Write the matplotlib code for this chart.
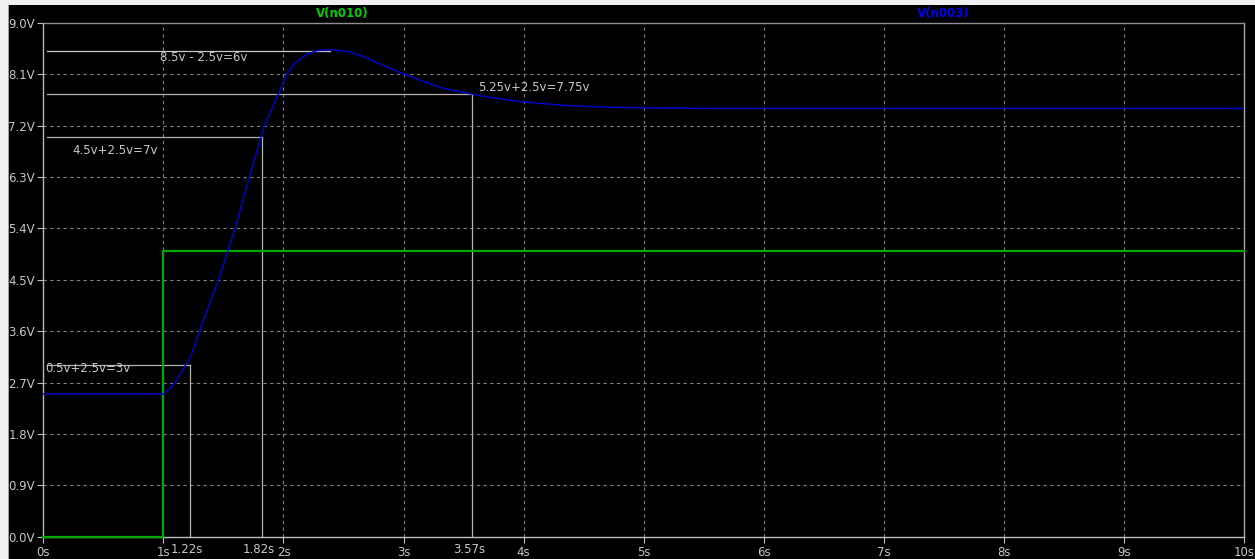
import matplotlib
matplotlib.use("Agg")
import matplotlib.pyplot as plt
from matplotlib.patches import Rectangle

# --- traces -----------------------------------------------------------------
# V(n003): second-order step response (time in s, volts)
t_n003 = [0.0, 1.0, 1.055, 1.11, 1.161, 1.227, 1.299, 1.458, 1.536,
          1.597, 1.716, 1.813, 1.841, 1.957, 2.027, 2.082, 2.138, 2.194,
          2.277, 2.388, 2.554, 2.693, 2.832, 3.004, 3.165, 3.331, 3.498,
          3.693, 4.003, 4.359, 4.692, 5.003, 5.469, 6.0, 7.0, 8.0, 9.0, 10.0]
v_n003 = [2.5, 2.5, 2.6, 2.74, 2.92, 3.15, 3.6, 4.5, 5.0,
          5.4, 6.3, 7.0, 7.2, 7.75, 8.1, 8.26, 8.36, 8.45,
          8.51, 8.53, 8.49, 8.38, 8.25, 8.1, 7.97, 7.85, 7.78,
          7.7, 7.61, 7.55, 7.52, 7.51, 7.5, 7.5, 7.5, 7.5, 7.5, 7.5]

# V(n010): 5 V input step at t = 1 s
t_n010 = [0.0, 1.0, 1.0, 10.0]
v_n010 = [0.0, 0.0, 5.0, 5.0]

# --- cursor markers ---------------------------------------------------------
mark_t = [1.22, 1.82, 3.57]
mark_v = [3.0, 7.0, 7.75]
mark_t_labels = ["1.22s", "1.82s", "3.57s"]
peak_t = 2.39
peak_v = 8.5
notes = ["0.5v+2.5v=3v", "4.5v+2.5v=7v", "8.5v - 2.5v=6v", "5.25v+2.5v=7.75v"]
note_pos = [(0.02, 2.94), (0.24, 6.76), (0.97, 8.39), (3.62, 7.87)]

# --- axis ticks -------------------------------------------------------------
x_ticks = list(range(0, 11))
x_tick_labels = [f"{v}s" for v in x_ticks]
y_ticks = [0.0, 0.9, 1.8, 2.7, 3.6, 4.5, 5.4, 6.3, 7.2, 8.1, 9.0]
y_tick_labels = [f"{v:.1f}V" for v in y_ticks]

W, H = 1255, 559
TXT = "#c8c8c8"
FONT = "DejaVu Sans"

fig = plt.figure(figsize=(W / 100, H / 100), dpi=100, facecolor="black")
# window border strips
fig.patches.append(Rectangle((0, (H - 5) / H), 1, 5 / H, transform=fig.transFigure,
                             facecolor="#f0f0f0", edgecolor="none"))
fig.patches.append(Rectangle((0, 0), 8 / W, 1, transform=fig.transFigure,
                             facecolor="#f0f0f0", edgecolor="none"))
fig.patches.append(Rectangle((8 / W, 0), 1 / W, (H - 5) / H, transform=fig.transFigure,
                             facecolor="#a0a0a0", edgecolor="none"))

x0, x1 = 43.3, 1244.0
y_top, y_bot = 22.7, 536.7
ax = fig.add_axes([x0 / W, (H - y_bot) / H, (x1 - x0) / W, (y_bot - y_top) / H])
ax.set_facecolor("black")
ax.set_xlim(0, 10)
ax.set_ylim(0, 9)

# dashed grid
for x in x_ticks[1:-1]:
    ax.plot([x, x], [0, 9], color="#808080", lw=0.8, ls=(0, (3, 3)), zorder=1)
for y in y_ticks[1:-1]:
    ax.plot([0, 10], [y, y], color="#808080", lw=0.8, ls=(0, (3, 3)), zorder=1)

for side, col in (("left", "#b8b8b8"), ("bottom", "#c0c0c0"),
                  ("top", "#909090"), ("right", "#a8a8a8")):
    ax.spines[side].set_color(col)
    ax.spines[side].set_linewidth(1.0)

ax.set_xticks(x_ticks)
ax.set_xticklabels(x_tick_labels)
ax.set_yticks(y_ticks)
ax.set_yticklabels(y_tick_labels)
ax.tick_params(axis="x", direction="out", length=4, width=0.8, color="#c0c0c0",
               pad=2.5, labelsize=8.5, labelcolor=TXT)
ax.tick_params(axis="y", direction="out", length=4.5, width=0.8, color="#c0c0c0",
               pad=1.5, labelsize=8.5, labelcolor=TXT)
for lab in ax.get_xticklabels() + ax.get_yticklabels():
    lab.set_fontfamily(FONT)

# cursor helper lines
h_start = 0.03
for tm, vm in zip(mark_t, mark_v):
    ax.plot([h_start, tm], [vm, vm], color="#b4b4b4", lw=0.9, zorder=2)
    ax.plot([tm, tm], [0, vm], color="#b4b4b4", lw=0.9, zorder=2)
ax.plot([h_start, peak_t], [peak_v, peak_v], color="#c8c8c8", lw=0.9, zorder=2)

# traces
ax.plot(t_n010, v_n010, color="#00a800", lw=1.6, zorder=3, clip_on=False)
ax.plot(t_n003, v_n003, color="#0000c8", lw=1.1, zorder=4)

# notes
for txt, (tx, ty) in zip(notes, note_pos):
    ax.text(tx, ty, txt, color=TXT, fontsize=8.5, family=FONT, ha="left", va="center")

# cursor time labels under the axis
for tm, lab in zip(mark_t, mark_t_labels):
    ax.annotate(lab, xy=(tm, 0), xycoords="data", xytext=(-2, -9),
                textcoords="offset points", ha="center", va="center",
                color=TXT, fontsize=8.5, family=FONT, annotation_clip=False)

# trace names
fig.text(342 / W, 1 - 13 / H, "V(n010)", color="#00d000", fontsize=8.5,
         family=FONT, weight="bold", ha="center", va="center")
fig.text(943 / W, 1 - 13 / H, "V(n003)", color="#0000f0", fontsize=8.5,
         family=FONT, weight="bold", ha="center", va="center")

fig.savefig("out.png", dpi=100, facecolor=fig.get_facecolor())
